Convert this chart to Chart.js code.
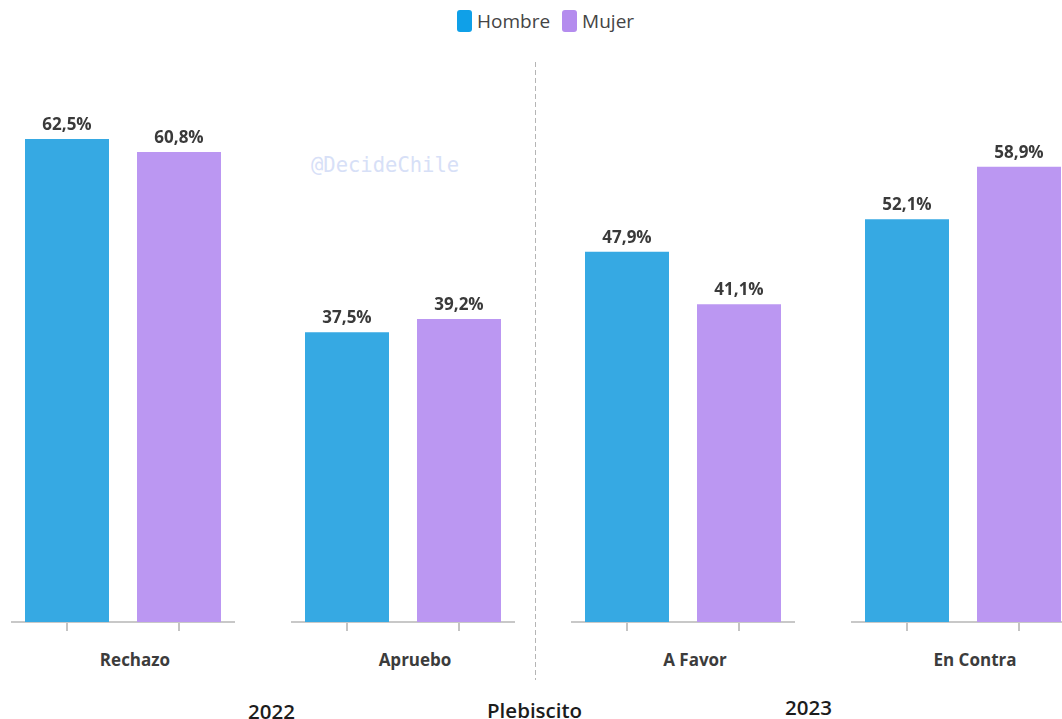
<!DOCTYPE html>
<html>
<head>
<meta charset="utf-8">
<script src="https://cdn.jsdelivr.net/npm/chart.js@4"></script>
<style>
  body { margin: 0; background: #fff; }
  #page { position: relative; width: 1062px; height: 719px; overflow: hidden; font-family: "Open Sans", sans-serif; }
  .panel { position: absolute; top: 81px; width: 224px; height: 553px; }
  .cat { position: absolute; top: 648px; width: 224px; text-align: center; font-weight: 700; font-size: 17px; color: #3c3c3c; }
  .legend { position: absolute; top: 6px; left: 457px; font-size: 19px; color: #444; white-space: nowrap; }
  .legend span.box { display: inline-block; width: 15px; height: 22px; border-radius: 3px; vertical-align: middle; }
  .legend span.txt { vertical-align: middle; margin-left: 5px; margin-right: 12px; }
  .bottom { position: absolute; font-weight: 600; font-size: 20.5px; color: #1c1c1c; }
  #divider { position: absolute; left: 535px; top: 62px; width: 1px; height: 618px;
    background: repeating-linear-gradient(to bottom, #b5b5b5 0, #b5b5b5 5px, transparent 5px, transparent 8px); }
  #mark { position: absolute; left: 311px; top: 153px; font-family: "DejaVu Sans Mono", monospace; font-size: 20.5px; color: #d7e0f7; }
</style>
</head>
<body>
<div id="page">
  <div class="legend" id="legend"></div>
  <div id="divider"></div>
  <div id="mark">@DecideChile</div>
  <div class="bottom" style="left:248px; top:697px;">2022</div>
  <div class="bottom" style="left:487px; top:696px;">Plebiscito</div>
  <div class="bottom" style="left:785px; top:693px;">2023</div>
</div>
<script>
var categories = ['Rechazo', 'Apruebo', 'A Favor', 'En Contra'];
var seriesNames = ['Hombre', 'Mujer'];
var hombre = [62.5, 37.5, 47.9, 52.1];
var mujer = [60.8, 39.2, 41.1, 58.9];

const barColors = ['#36a9e3', '#bb97f2'];
const legendColors = ['#0fa0e8', '#b48cee'];
const page = document.getElementById('page');

// legend
const legendEl = document.getElementById('legend');
seriesNames.forEach((name, i) => {
  var box = document.createElement('span');
  box.className = 'box';
  box.style.backgroundColor = legendColors[i];
  var txt = document.createElement('span');
  txt.className = 'txt';
  txt.textContent = name;
  legendEl.appendChild(box);
  legendEl.appendChild(txt);
});

// value labels above the bars
const valueLabels = {
  id: 'valueLabels',
  afterDatasetsDraw(chart) {
    const ctx = chart.ctx;
    const ds = chart.data.datasets[0];
    ctx.save();
    ctx.font = '700 17px "Open Sans", sans-serif';
    ctx.fillStyle = '#3a3a3a';
    ctx.textAlign = 'center';
    ctx.textBaseline = 'alphabetic';
    chart.getDatasetMeta(0).data.forEach((bar, i) => {
      const v = ds.data[i].toFixed(1).replace('.', ',') + '%';
      ctx.fillText(v, bar.x, bar.y - 9);
    });
    ctx.restore();
  }
};

categories.forEach((cat, i) => {
  var left = 11 + 280 * i;

  var holder = document.createElement('div');
  holder.className = 'panel';
  holder.style.left = left + 'px';
  var canvas = document.createElement('canvas');
  holder.appendChild(canvas);
  page.appendChild(holder);

  var label = document.createElement('div');
  label.className = 'cat';
  label.style.left = (left + 12) + 'px';
  label.textContent = cat;
  page.appendChild(label);

  new Chart(canvas, {
    type: 'bar',
    data: {
      labels: seriesNames,
      datasets: [{
        data: [hombre[i], mujer[i]],
        backgroundColor: barColors,
        borderWidth: 0,
        categoryPercentage: 1,
        barPercentage: 0.75
      }]
    },
    options: {
      responsive: true,
      maintainAspectRatio: false,
      animation: false,
      layout: { padding: 0 },
      plugins: { legend: { display: false }, tooltip: { enabled: false } },
      scales: {
        x: {
          ticks: { display: false },
          grid: { drawOnChartArea: false, drawTicks: true, tickLength: 9, offset: false, color: '#c4c4c4', lineWidth: 2 },
          border: { display: true, color: '#c8c8c8', width: 2 },
          afterFit(scale) { scale.height = 12; }
        },
        y: { display: false, min: 0, max: 70 }
      }
    },
    plugins: [valueLabels]
  });
});
</script>
</body>
</html>
